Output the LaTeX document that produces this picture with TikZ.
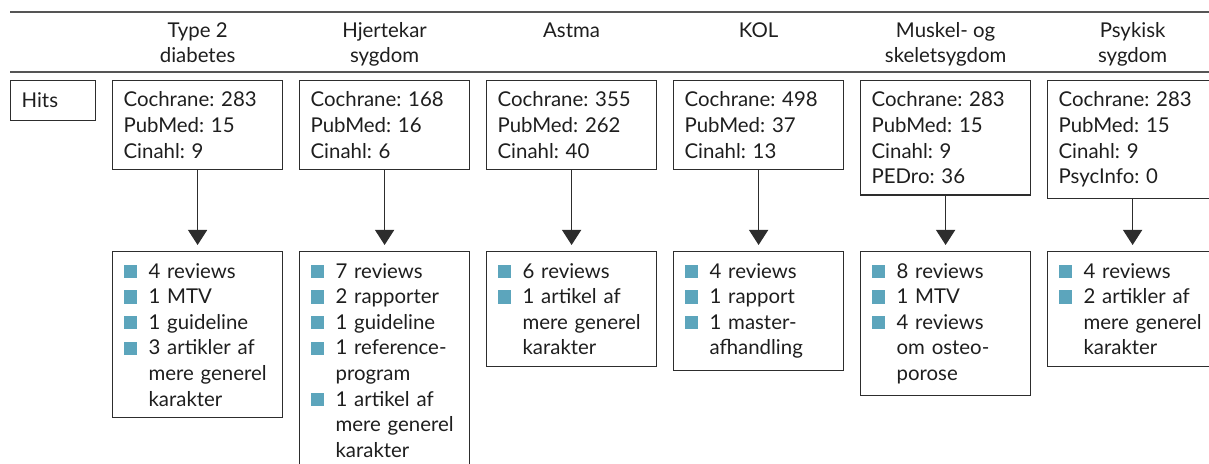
\documentclass[tikz,border=0pt]{standalone}
\usepackage{fontspec}
\setmainfont{Lato}
\usepackage{tikz}
\usetikzlibrary{arrows.meta,positioning}

\newcommand{\sq}{\makebox[12.5pt][l]{\textcolor{bulletblue}{\rule{6.6pt}{6.6pt}}}}
\newcommand{\ind}{\hspace*{12.5pt}}
\frenchspacing

\begin{document}
\begin{tikzpicture} [
font=\fontsize{10.2}{12.8}\selectfont,
every node/.style = { text=textgray },
hits/.style    = { rectangle, draw=boxgray, line width=0.6pt,
    anchor=north west, text width=31.5pt, align=left,
    inner xsep=5.5pt, minimum height=20pt },
query/.style   = { rectangle, draw=boxgray, line width=0.6pt,
    text width=74pt, align=left, inner xsep=5.5pt, inner ysep=5.6pt },
result/.style  = { rectangle, draw=boxgray, line width=0.6pt, anchor=north,
    text width=74pt, align=left, inner xsep=5.5pt, inner ysep=5.8pt },
head/.style    = { anchor=north, align=center, inner sep=0pt,
    font=\fontsize{10.2}{12.5}\selectfont },
rule/.style    = { draw=rulegray },
line/.style    = { draw=boxgray, line width=0.6pt,
    -{Triangle[width=9.5pt,length=7.5pt]}, shorten >=3pt },
]
\definecolor{bulletblue}{RGB}{92,165,188}
\definecolor{boxgray}{RGB}{45,45,45}
\definecolor{rulegray}{RGB}{85,85,85}
\definecolor{textgray}{RGB}{30,30,30}
\useasboundingbox (0,0) rectangle (604.5pt,-232pt);

% rules of the table head
\coordinate (ruleA) at (5pt,-6pt);
\coordinate (ruleB) at (5pt,-36pt);
\path[rule, line width=1pt] (ruleA) -- ++(600pt,0);
\path[rule, line width=0.7pt] (ruleB) -- ++(600pt,0);

\node[hits] (hits) at (5pt,-40pt) {Hits};

% hits per database
\node[query, right=7.9pt of hits.north east, anchor=north west] (t1)
    {Cochrane: 283\\PubMed: 15\\Cinahl: 9};
\node[query, right=7.9pt of t1.north east, anchor=north west] (t2)
    {Cochrane: 168\\PubMed: 16\\Cinahl: 6};
\node[query, right=7.9pt of t2.north east, anchor=north west] (t3)
    {Cochrane: 355\\PubMed: 262\\Cinahl: 40};
\node[query, right=7.9pt of t3.north east, anchor=north west] (t4)
    {Cochrane: 498\\PubMed: 37\\Cinahl: 13};
\node[query, right=7.9pt of t4.north east, anchor=north west] (t5)
    {Cochrane: 283\\PubMed: 15\\Cinahl: 9\\PEDro: 36};
\node[query, right=7.9pt of t5.north east, anchor=north west] (t6)
    {Cochrane: 283\\PubMed: 15\\Cinahl: 9\\PsycInfo: 0};

% column heads
\node[head] (h1) at (t1.north |- 0,-11pt) {Type 2\\diabetes};
\node[head] (h2) at (t2.north |- 0,-11pt) {Hjertekar\\sygdom};
\node[head] (h3) at (t3.north |- 0,-11pt) {Astma};
\node[head] (h4) at (t4.north |- 0,-11pt) {KOL};
\node[head] (h5) at (t5.north |- 0,-11pt) {Muskel- og\\skeletsygdom};
\node[head] (h6) at (t6.north |- 0,-11pt) {Psykisk\\sygdom};

% what was found
\coordinate (row) at (0,-125.5pt);
\node[result] (r1) at (t1.south |- row)
    {\sq 4 reviews\\\sq 1 MTV\\\sq 1 guideline\\\sq 3 artikler af\\\ind mere generel\\\ind karakter};
\node[result] (r2) at (t2.south |- row)
    {\sq 7 reviews\\\sq 2 rapporter\\\sq 1 guideline\\\sq 1 reference-\\\ind program\\\sq 1 artikel af\\\ind mere generel\\\ind karakter};
\node[result] (r3) at (t3.south |- row)
    {\sq 6 reviews\\\sq 1 artikel af\\\ind mere generel\\\ind karakter};
\node[result] (r4) at (t4.south |- row)
    {\sq 4 reviews\\\sq 1 rapport\\\sq 1 master-\\\ind afhandling};
\node[result] (r5) at (t5.south |- row)
    {\sq 8 reviews\\\sq 1 MTV\\\sq 4 reviews\\\ind om osteo-\\\ind porose};
\node[result] (r6) at (t6.south |- row)
    {\sq 4 reviews\\\sq 2 artikler af\\\ind mere generel\\\ind karakter};

\foreach \i in {1,...,6}
    \path[line] (t\i) -- (r\i);

\end{tikzpicture}
\end{document}
